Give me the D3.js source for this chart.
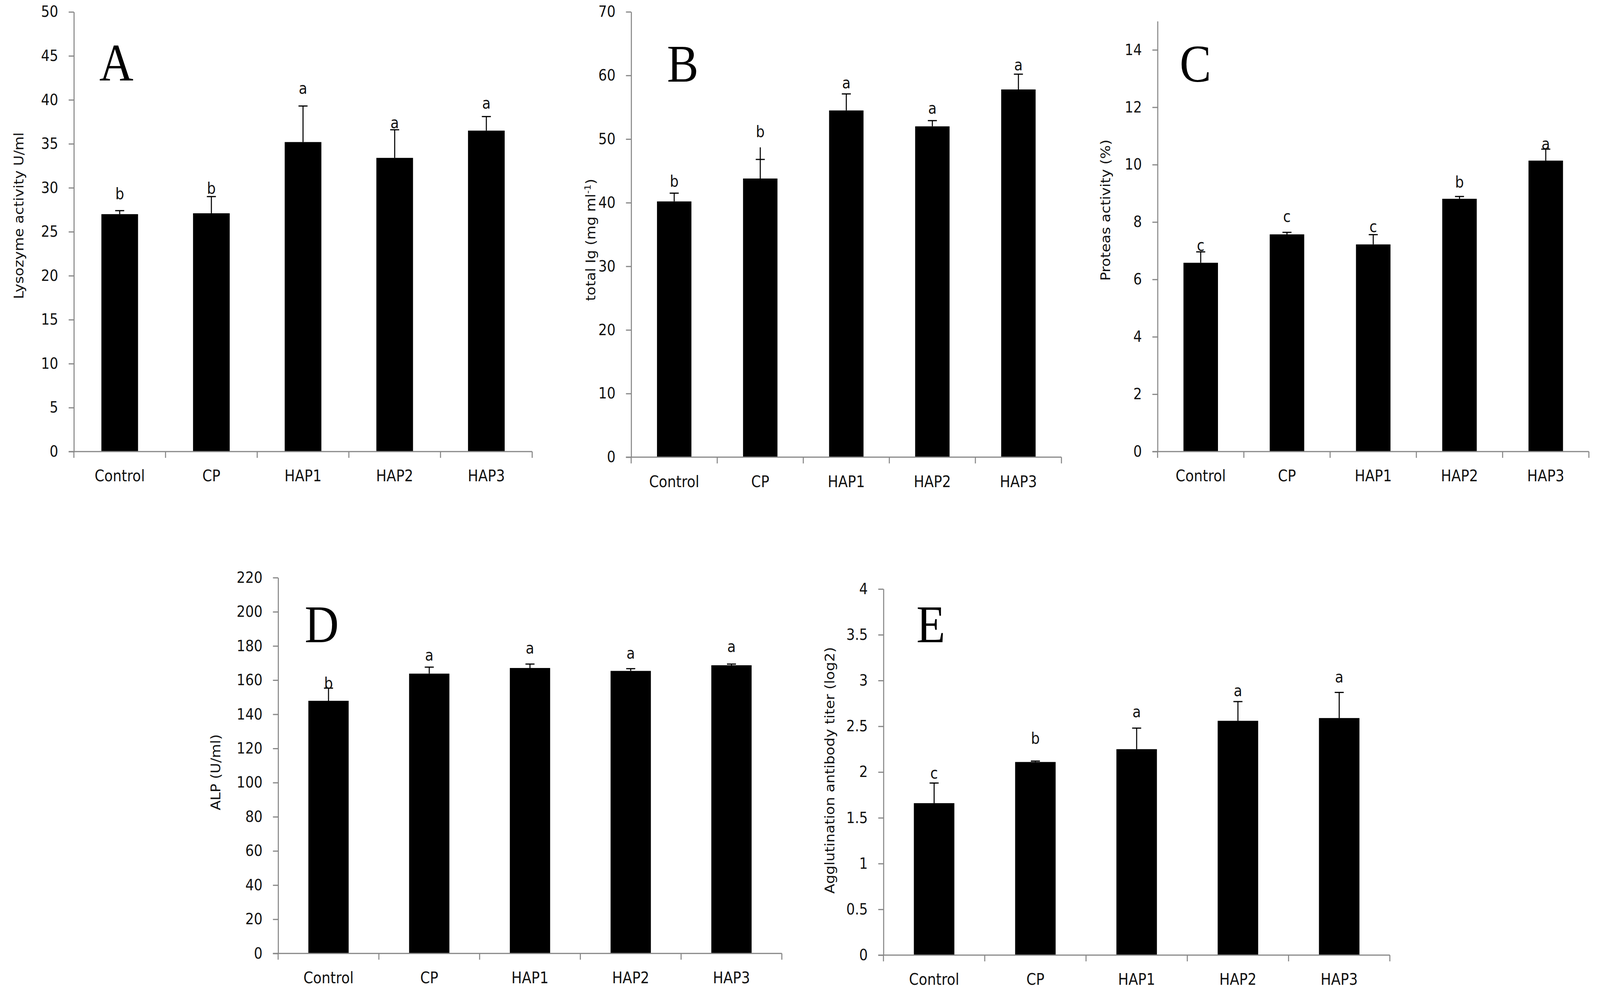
<!DOCTYPE html>
<html>
<head>
<meta charset="utf-8">
<script src="https://cdn.jsdelivr.net/npm/d3@7"></script>
<style>
  html, body { margin: 0; padding: 0; background: #fff; overflow: hidden; }
  #chart svg { display: block; }
  text { font-family: "DejaVu Sans", sans-serif; fill: #111; }
  .panel-letter { font-family: "Liberation Serif", "Times New Roman", serif; fill: #000; }
</style>
</head>
<body>
<div id="chart"></div>
<script>
var categories = ["Control", "CP", "HAP1", "HAP2", "HAP3"];

// A - lysozyme
var lysozymeMean = [27.0, 27.1, 35.2, 33.4, 36.5];
var lysozymeErr = [27.4, 29.0, 39.3, 36.6, 38.1];
var lysozymeLetters = ["b", "b", "a", "a", "a"];
var lysozymeLetterAt = [28.7, 29.3, 40.7, 36.8, 39.0];
var lysozymeTicks = [0, 5, 10, 15, 20, 25, 30, 35, 40, 45, 50];

// B - total Ig
var igMean = [40.2, 43.8, 54.5, 52.0, 57.8];
var igErr = [41.5, 46.8, 57.1, 52.9, 60.2];
var igLineTop = [41.5, 48.7, 57.1, 52.9, 60.2];
var igLetters = ["b", "b", "a", "a", "a"];
var igLetterAt = [42.5, 50.3, 58.0, 54.0, 60.8];
var igTicks = [0, 10, 20, 30, 40, 50, 60, 70];

// C - protease
var proteaseMean = [6.58, 7.57, 7.22, 8.81, 10.14];
var proteaseErr = [6.96, 7.64, 7.56, 8.89, 10.54];
var proteaseLetters = ["c", "c", "c", "b", "a"];
var proteaseLetterAt = [7.0, 8.0, 7.65, 9.2, 10.54];
var proteaseTicks = [0, 2, 4, 6, 8, 10, 12, 14];

// D - ALP
var alpMean = [147.9, 163.8, 167.1, 165.4, 168.7];
var alpErr = [155.3, 167.6, 169.4, 166.7, 169.4];
var alpLetters = ["b", "a", "a", "a", "a"];
var alpLetterAt = [155.0, 171.4, 175.6, 172.7, 176.4];
var alpTicks = [0, 20, 40, 60, 80, 100, 120, 140, 160, 180, 200, 220];

// E - agglutination titer
var titerMean = [1.66, 2.11, 2.25, 2.56, 2.59];
var titerErr = [1.88, 2.12, 2.48, 2.77, 2.87];
var titerLetters = ["c", "b", "a", "a", "a"];
var titerLetterAt = [1.93, 2.31, 2.6, 2.83, 2.98];
var titerTicks = [0, 0.5, 1, 1.5, 2, 2.5, 3, 3.5, 4];

var W = 4606, H = 2542;
// drawing is laid out in 4606x2542 units and stretched to whatever the viewport is
var svg = d3.select("#chart").append("svg")
    .attr("width", window.innerWidth || W).attr("height", window.innerHeight || H)
    .attr("viewBox", `0 0 ${W} ${H}`).attr("preserveAspectRatio", "none");
svg.append("rect").attr("width", W).attr("height", H).attr("fill", "#fff");

var panels = [
    {tag: "A", mean: lysozymeMean, err: lysozymeErr, lineTop: lysozymeErr, letters: lysozymeLetters, letterAt: lysozymeLetterAt,
     ticks: lysozymeTicks, max: 50, x0: 212.7, x1: 1532, y0: 1156, yTop: 30.5,
     title: ["Lysozyme activity U/ml"], titleX: 67, titleY: 552, tagX: 286, tagY: 206},
    {tag: "B", mean: igMean, err: igErr, lineTop: igLineTop, letters: igLetters, letterAt: igLetterAt,
     ticks: igTicks, max: 70, x0: 1817, x1: 3055.6, y0: 1170.3, yTop: 30.3,
     title: ["total Ig (mg ml", "-1", ")"], titleX: 1714, titleY: 614, tagX: 1920, tagY: 209},
    {tag: "C", mean: proteaseMean, err: proteaseErr, lineTop: proteaseErr, letters: proteaseLetters, letterAt: proteaseLetterAt,
     ticks: proteaseTicks, max: 15, x0: 3332.4, x1: 4574, y0: 1156, yTop: 54.2,
     title: ["Proteas activity (%)"], titleX: 3196, titleY: 538, tagX: 3396, tagY: 209},
    {tag: "D", mean: alpMean, err: alpErr, lineTop: alpErr, letters: alpLetters, letterAt: alpLetterAt,
     ticks: alpTicks, max: 220, x0: 800.7, x1: 2250.7, y0: 2440.7, yTop: 1478.7,
     title: ["ALP (U/ml)"], titleX: 634, titleY: 1977, tagX: 877, tagY: 1644},
    {tag: "E", mean: titerMean, err: titerErr, lineTop: titerErr, letters: titerLetters, letterAt: titerLetterAt,
     ticks: titerTicks, max: 4, x0: 2543.3, x1: 4001, y0: 2445, yTop: 1507.8,
     title: ["Agglutination antibody titer (log2)"], titleX: 2402, titleY: 1972, tagX: 2638, tagY: 1644}
];

var axisColor = "#878787";

panels.forEach(function(p) {
    var data = categories.map(function(c, i) {
        return {cat: c, mean: p.mean[i], err: p.err[i], lineTop: p.lineTop[i], letter: p.letters[i], letterAt: p.letterAt[i]};
    });

    var x = d3.scaleBand().domain(categories).range([p.x0, p.x1]).paddingInner(0.6).paddingOuter(0.3);
    var y = d3.scaleLinear().domain([0, p.max]).range([p.y0, p.yTop]);
    var g = svg.append("g");

    // bars
    g.selectAll(".bar").data(data).enter().append("rect").attr("class", "bar")
        .attr("x", d => x(d.cat)).attr("y", d => y(d.mean))
        .attr("width", x.bandwidth()).attr("height", d => y(0) - y(d.mean)).attr("fill", "#000");

    // error bars (upper only)
    var cx = d => x(d.cat) + x.bandwidth() / 2;
    g.selectAll(".err").data(data).enter().append("line").attr("class", "err")
        .attr("x1", cx).attr("x2", cx).attr("y1", d => y(d.mean)).attr("y2", d => y(d.lineTop))
        .attr("stroke", "#000").attr("stroke-width", 3);
    g.selectAll(".cap").data(data).enter().append("line").attr("class", "cap")
        .attr("x1", d => cx(d) - 13).attr("x2", d => cx(d) + 13).attr("y1", d => y(d.err)).attr("y2", d => y(d.err))
        .attr("stroke", "#000").attr("stroke-width", 3);

    // significance letters
    g.selectAll(".sig").data(data).enter().append("text").attr("class", "sig")
        .attr("x", cx).attr("y", d => y(d.letterAt)).attr("text-anchor", "middle")
        .style("font-size", "40px").text(d => d.letter);

    // y axis
    var yAxis = g.append("g").attr("transform", `translate(${p.x0},0)`)
        .call(d3.axisLeft(y).tickValues(p.ticks).tickSize(15).tickSizeOuter(0).tickPadding(30).tickFormat(d3.format("~g")));
    yAxis.select(".domain").attr("stroke", axisColor).attr("stroke-width", 3);
    yAxis.selectAll(".tick line").attr("stroke", axisColor).attr("stroke-width", 3);
    yAxis.selectAll(".tick text").style("font-size", "39px").style("font-family", "DejaVu Sans").attr("fill", "#111");

    // x axis: labels from the band scale, ticks on band boundaries
    var xAxis = g.append("g").attr("transform", `translate(0,${p.y0})`)
        .call(d3.axisBottom(x).tickSize(0).tickPadding(48));
    xAxis.select(".domain").remove();
    xAxis.selectAll(".tick text").style("font-size", "40px").style("font-family", "DejaVu Sans").attr("fill", "#111");

    g.append("line").attr("x1", p.x0 - 15).attr("x2", p.x1).attr("y1", p.y0).attr("y2", p.y0)
        .attr("stroke", axisColor).attr("stroke-width", 3);
    var bounds = d3.range(categories.length + 1).map(i => p.x0 + i * x.step());
    g.selectAll(".xtick").data(bounds).enter().append("line").attr("class", "xtick")
        .attr("x1", d => d).attr("x2", d => d).attr("y1", p.y0).attr("y2", p.y0 + 16)
        .attr("stroke", axisColor).attr("stroke-width", 3);

    // y axis title
    var t = g.append("text").attr("transform", `translate(${p.titleX},${p.titleY}) rotate(-90)`)
        .attr("text-anchor", "middle").style("font-size", "37px");
    t.append("tspan").text(p.title[0]);
    if (p.title.length > 1) {
        t.append("tspan").attr("dy", -14).style("font-size", "24px").text(p.title[1]);
        t.append("tspan").attr("dy", 14).text(p.title[2]);
    }

    // panel tag
    g.append("text").attr("class", "panel-letter").attr("x", p.tagX).attr("y", p.tagY)
        .style("font-size", "136px").text(p.tag);
});
</script>
</body>
</html>
